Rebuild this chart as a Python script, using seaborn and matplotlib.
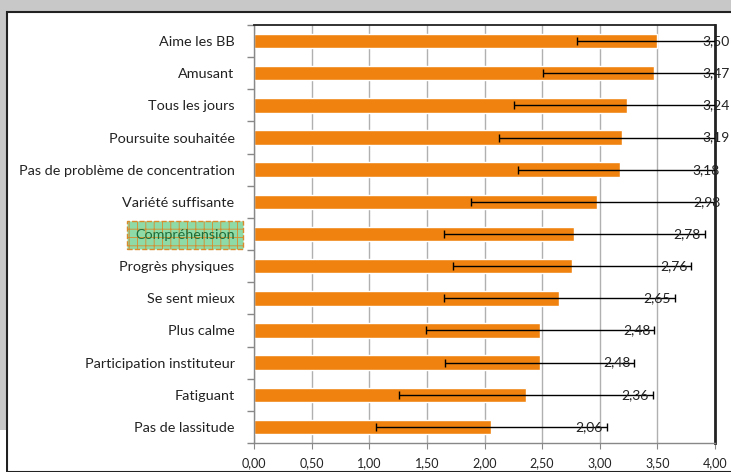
import numpy as np
import pandas as pd
import matplotlib.pyplot as plt
import matplotlib.patches as mpatches
from matplotlib.ticker import MultipleLocator, FuncFormatter
import seaborn as sns

# data
categories = ['Aime les BB', 'Amusant', 'Tous les jours', 'Poursuite souhaitée',
              'Pas de problème de concentration', 'Variété suffisante', 'Compréhension',
              'Progrès physiques', 'Se sent mieux', 'Plus calme',
              'Participation instituteur', 'Fatiguant', 'Pas de lassitude']
scores = [3.50, 3.47, 3.24, 3.19, 3.18, 2.98, 2.78, 2.76, 2.65, 2.48, 2.48, 2.36, 2.06]
errors = [0.70, 0.96, 0.98, 1.06, 0.89, 1.10, 1.13, 1.03, 1.00, 0.99, 0.82, 1.10, 1.00]
labels = ['3,50', '3,47', '3,24', '3,19', '3,18', '2,98', '2,78', '2,76', '2,65',
          '2,48', '2,48', '2,36', '2,06']

df = pd.DataFrame({'Item': categories, 'Score': scores, 'Err': errors})

sns.set_style('white')
plt.rcParams['font.family'] = ['Lato', 'DejaVu Sans']
plt.rcParams['hatch.color'] = '#4fb978'
plt.rcParams['hatch.linewidth'] = 0.6

fig = plt.figure(figsize=(7.31, 4.72), dpi=100)
fig.patch.set_facecolor('#c8c8c8')
W, H = 731, 472
# white panel with dark frame
fig.patches.append(mpatches.Rectangle((7 / W, 0), 1, 1 - 12 / H, transform=fig.transFigure,
                                      facecolor='white', edgecolor='#222222', linewidth=1.5,
                                      zorder=-2))
fig.patches.append(mpatches.Rectangle((0, 0), 6 / W, 1 - 430 / H, transform=fig.transFigure,
                                      facecolor='white', edgecolor='none', zorder=-2))

ax = fig.add_axes([254 / W, 1 - 443 / H, (715 - 254) / W, (443 - 25) / H])
ax.set_facecolor('white')

sns.barplot(data=df, x='Score', y='Item', orient='h', color='#f0830f', width=0.45,
            saturation=1, errorbar=None, ax=ax, zorder=2)
ax.errorbar(df['Score'], np.arange(len(df)), xerr=df['Err'], fmt='none', ecolor='black',
            elinewidth=1, capsize=3, capthick=1, zorder=3)

for i, (v, e, t) in enumerate(zip(scores, errors, labels)):
    ax.text(min(v + e - 0.15, 4.01), i, t, ha='center', va='center', fontsize=10,
            color='#222222', clip_on=False, zorder=4)

ax.set_xlim(0, 4)
ax.set_ylim(len(categories) - 0.5, -0.5)
ax.xaxis.set_major_locator(MultipleLocator(0.5))
ax.xaxis.set_major_formatter(FuncFormatter(lambda v, p: f'{v:.2f}'.replace('.', ',')))
ax.grid(axis='x', color='#b0b0b0', linewidth=1, zorder=0)
ax.set_axisbelow(True)
ax.set_xlabel('')
ax.set_ylabel('')

ax.set_yticks(np.arange(len(categories) + 1) - 0.5, minor=True)
ax.tick_params(axis='y', which='major', length=0, pad=14, labelsize=10.4, labelcolor='#222222')
ax.tick_params(axis='y', which='minor', left=True, length=5, color='#888888', width=1)
ax.tick_params(axis='x', bottom=True, length=4, color='#888888', labelsize=9,
               labelcolor='#222222', pad=6)

for s in ['left', 'bottom']:
    ax.spines[s].set_color('#888888')
    ax.spines[s].set_linewidth(1)
for s in ['top', 'right']:
    ax.spines[s].set_color('#222222')
ax.spines['top'].set_linewidth(1.3)
ax.spines['right'].set_linewidth(2)

# highlighted category label
for lab in ax.get_yticklabels():
    if lab.get_text() == 'Compréhension':
        lab.set_color('#1e6e3a')
        lab.set_bbox(dict(facecolor='#8edba8', edgecolor='#d98a2a', linestyle='--',
                          linewidth=1, hatch='++', pad=6))

plt.savefig('out.png', dpi=100, facecolor=fig.get_facecolor())
